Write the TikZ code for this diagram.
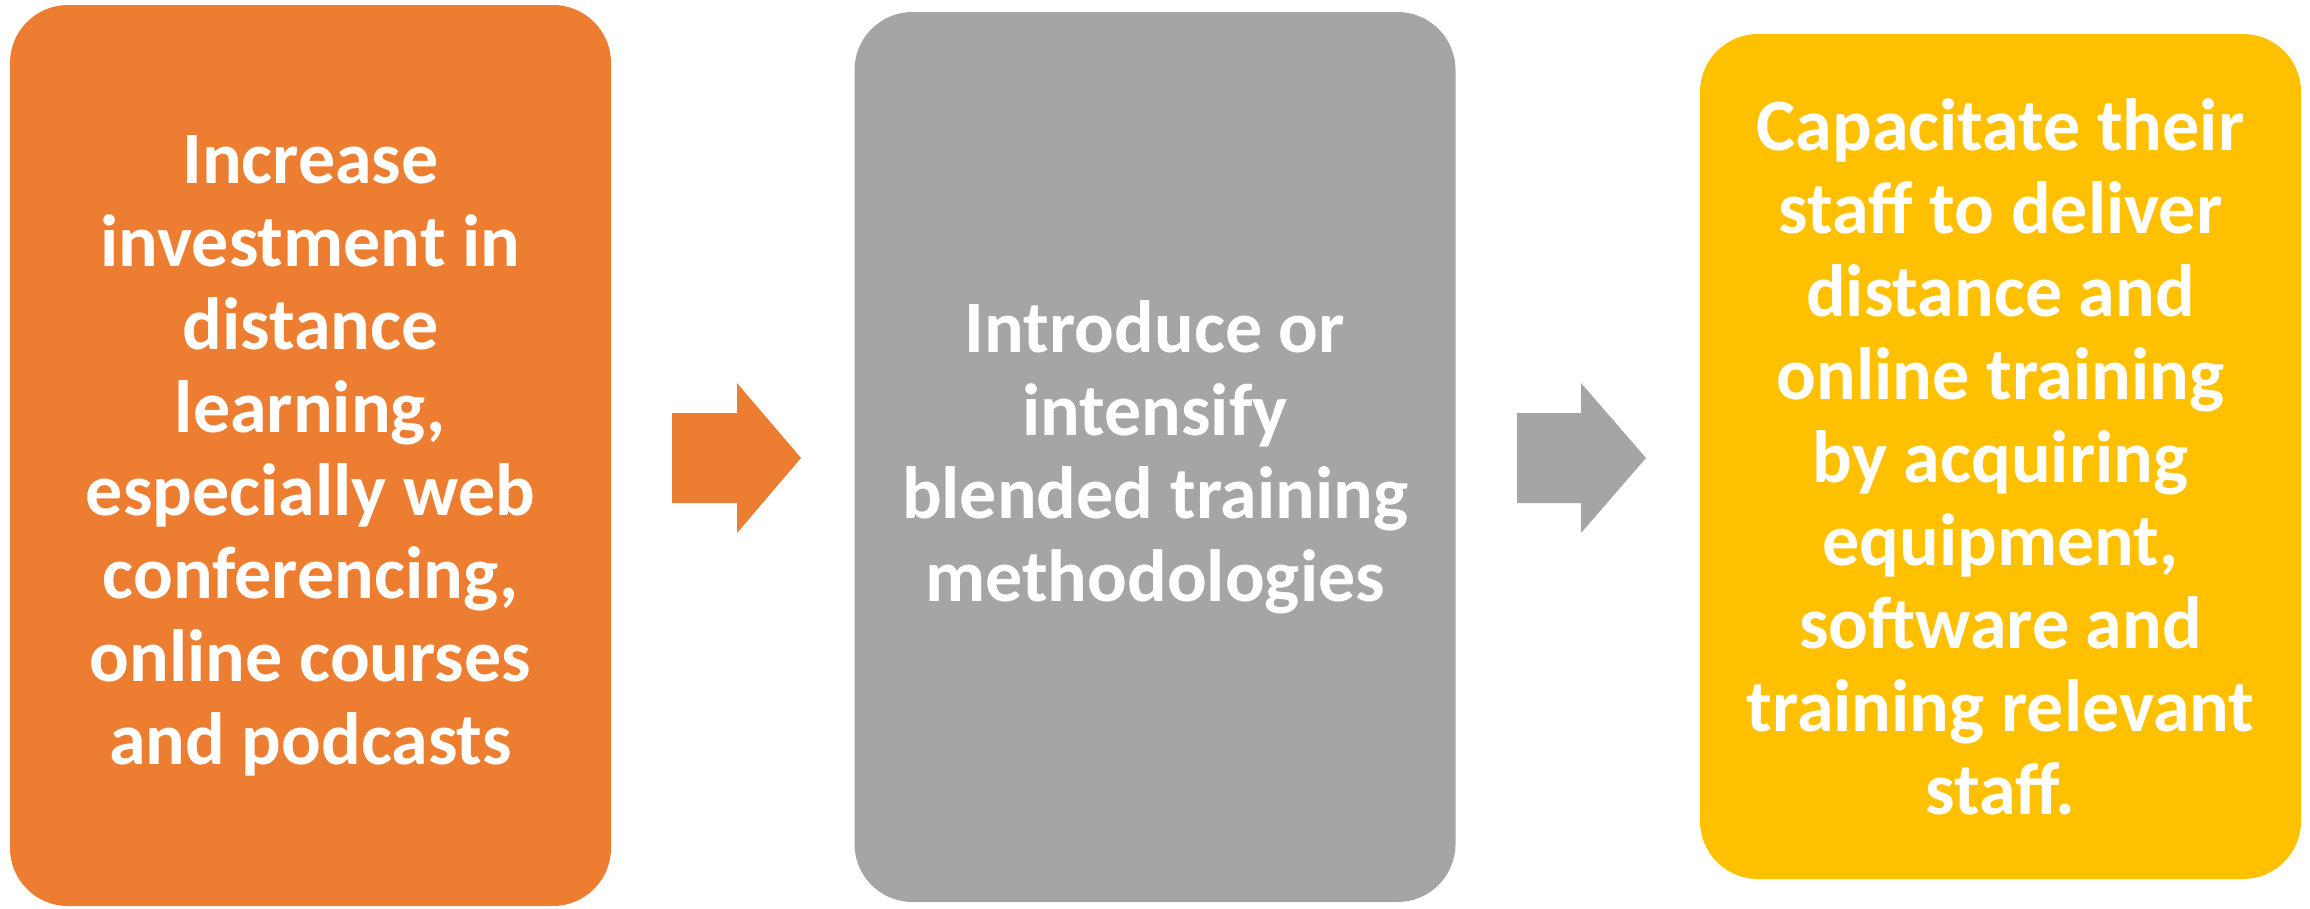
\documentclass[tikz,border=0pt]{standalone}
\usepackage{fontspec}
\setmainfont{Carlito}
\definecolor{cOrange}{HTML}{ED7D31}
\definecolor{cGray}{HTML}{A5A5A5}
\definecolor{cYellow}{HTML}{FFC000}
\tikzset{
  card/.style={draw=none, rounded corners=58pt, inner sep=0pt, align=center,
    text=white, font=\fontsize{74}{83}\selectfont\bfseries,
    minimum width=601pt},
  blockarrow/.style={draw=none}
}
\begin{document}
\begin{tikzpicture}[x=1pt,y=-1pt]
\useasboundingbox (0,0) rectangle (2310,908);
\node[card, fill=cOrange, minimum height=901pt] (a) at (310.5,455.5)
  {Increase\\investment in\\distance\\learning,\\especially web\\conferencing,\\online courses\\and podcasts};
\node[card, fill=cGray, minimum height=890pt] (b) at (1155,457)
  {Introduce or\\intensify\\blended training\\methodologies};
\node[card, fill=cYellow, minimum height=845pt] (c) at (2000.5,456.5)
  {Capacitate their\\staff to deliver\\distance and\\online training\\by acquiring\\equipment,\\software and\\training relevant\\staff.};
\fill[cOrange, blockarrow] (672,413) -- (737,413) -- (737,383) -- (801,458) -- (737,533) -- (737,503) -- (672,503) -- cycle;
\fill[cGray, blockarrow] (1517,413) -- (1581,413) -- (1581,383) -- (1646,458) -- (1581,533) -- (1581,503) -- (1517,503) -- cycle;
\end{tikzpicture}
\end{document}
